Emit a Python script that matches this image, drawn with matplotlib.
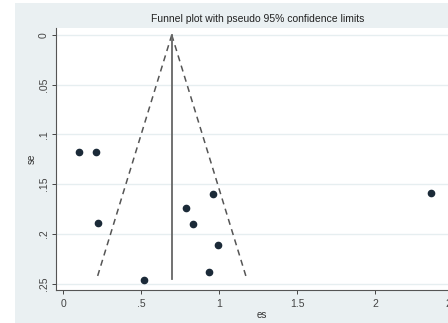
import numpy as np
import matplotlib.pyplot as plt
from matplotlib.patches import Rectangle

plt.rcParams['font.family'] = ['Liberation Sans', 'DejaVu Sans']

# study estimates
es = [0.103, 0.21, 0.224, 0.521, 0.786, 0.835, 0.962, 0.994, 0.938, 2.361]
se = [0.118, 0.118, 0.189, 0.246, 0.174, 0.190, 0.160, 0.211, 0.238, 0.159]
pooled = 0.697
se_max = 0.245

xticks = [0, 0.5, 1, 1.5, 2, 2.5]
xtick_labels = ["0", ".5", "1", "1.5", "2", "2.5"]
yticks = [0, 0.05, 0.1, 0.15, 0.2, 0.25]
ytick_labels = ["0", ".05", ".1", ".15", ".2", ".25"]

fig = plt.figure(figsize=(4.48, 3.23), dpi=100)
fig.patch.set_facecolor("white")
fig.patches.append(Rectangle((15 / 448, 0), 1, 1 - 3 / 323, transform=fig.transFigure,
                             facecolor="#eaf0f2", edgecolor="none", zorder=-1))

ax = fig.add_axes([56 / 448, 33 / 323, 0.921, 262 / 323])
ax.set_zorder(1)
ax.set_facecolor("white")

# funnel limits
se_line = np.array([0, se_max])
ax.plot(pooled - 1.96 * se_line, se_line, color="#555555", lw=1.1, ls=(0, (4, 3)))
ax.plot(pooled + 1.96 * se_line, se_line, color="#555555", lw=1.1, ls=(0, (4, 3)))
ax.plot([pooled, pooled], se_line, color="#666666", lw=1.3)

ax.plot(es, se, "o", color="#1b2a38", markersize=4.5)

ax.set_xlim(-0.045, 2.6)
ax.set_ylim(0.2565, -0.007)
ax.set_xticks(xticks)
ax.set_xticklabels(xtick_labels)
ax.set_yticks(yticks)
ax.set_yticklabels(ytick_labels, rotation=90, va="center")
ax.tick_params(colors="#444444", labelsize=7.5, length=3, width=0.7)
ax.tick_params(axis="y", pad=2)
ax.grid(axis="y", color="#e6eef0", lw=1)
ax.set_axisbelow(True)
for side in ["top", "right"]:
    ax.spines[side].set_visible(False)
for side in ["left", "bottom"]:
    ax.spines[side].set_color("#555555")
    ax.spines[side].set_linewidth(0.8)

ax.set_xlabel("es", fontsize=7, labelpad=1, color="#333333")
ax.set_ylabel("se", fontsize=7, labelpad=2, color="#333333")
fig.text(258 / 448, 1 - 19 / 323, "Funnel plot with pseudo 95% confidence limits",
         ha="center", va="center", fontsize=7.5, color="#222222")

fig.savefig("out.png", dpi=100)
